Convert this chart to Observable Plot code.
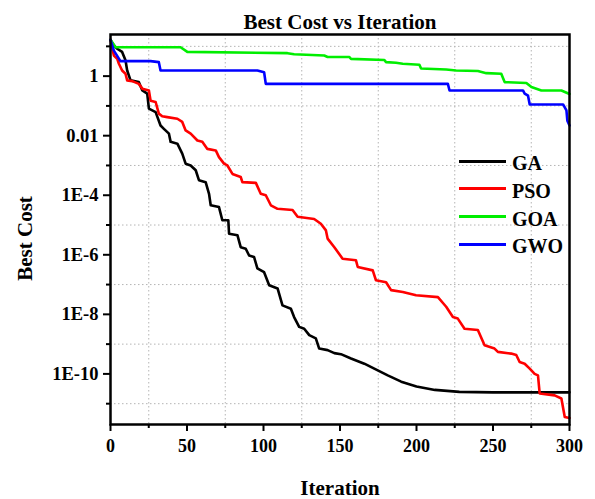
<!DOCTYPE html>
<html><head><meta charset="utf-8">
<script src="https://cdn.jsdelivr.net/npm/d3@7"></script>
<script src="https://cdn.jsdelivr.net/npm/@observablehq/plot@0.6"></script>
<style>
body{margin:0;background:#fff;}
#chart{position:relative;width:595px;height:499px;font-family:"Liberation Serif","Times New Roman",serif;font-weight:bold;}
#legend{position:absolute;left:459px;top:0;}
.row{position:absolute;left:0;height:28px;display:flex;align-items:center;white-space:nowrap;font-size:20px;color:#000;}
.sw{width:47px;height:3px;margin-right:6px;}
.lt{padding-top:5px;}
</style></head><body><div id="chart"><div id="legend"></div></div>
<script>
const names = ["GA", "PSO", "GOA", "GWO"];
const colors = ["#000000", "#ff0000", "#00ee00", "#0000ff"];

const iterGA = [0,2.2,4.4,7.6,9.8,10.9,13.1,18.5,20.8,24,25.1,29.5,32.7,34.9,38.2,39.3,43.7,46.9,49.1,52.4,55.7,57.8,62.2,64.4,65.5,70.9,73.1,77,77.5,83,85.1,88.4,90.6,93.8,96,100.4,103.7,109.2,112.4,117.9,120,123.3,126.6,129.9,134.2,136.4,141.9,146.3,150.6,157.2,165.9,172.4,181.2,190,200,212,228,250,300];
const costGA = [16.6,10.7,8.3,6.5,3.4,1.55,0.72,0.63,0.33,0.26,0.081,0.062,0.022,0.017,0.0117,0.0062,0.0054,0.0025,0.00115,0.001,6.9e-4,3.2e-4,2.75e-4,1.12e-4,4.6e-5,4.0e-5,1.45e-5,1.45e-5,5.1e-6,4.5e-6,1.8e-6,1.6e-6,9.5e-7,8.5e-7,3.5e-7,2.6e-7,9.5e-8,7.4e-8,2.0e-8,1.55e-8,8.1e-9,3.8e-9,3.3e-9,2.0e-9,1.55e-9,7.1e-10,6.3e-10,5.0e-10,4.6e-10,3.3e-10,2.2e-10,1.5e-10,8.9e-11,5.5e-11,3.8e-11,2.9e-11,2.5e-11,2.4e-11,2.4e-11];

const iterPSO = [0,2.2,4.4,5.5,7.6,9.8,10.9,14.2,18.5,20.8,25.1,26.2,29.5,31.6,33.8,37.1,43.7,46.9,49.1,52.4,56.8,60,63.3,68.8,70.9,74.2,76.4,79.7,85.1,86.2,95,98.2,101.5,104.8,109.2,119,122.3,133.1,137.5,140.8,141.9,146.3,151.7,160.4,161.6,171.4,173.5,180.1,183.4,191,199.7,214,219.4,223.8,227,231.4,240.1,244.5,251,253.2,261.9,265.2,267.4,270.7,274,277.2,279.4,280.5,290.3,294.7,296.9,300];
const costPSO = [16.6,4.9,3.8,2.6,1.55,1.2,0.72,0.68,0.55,0.38,0.33,0.15,0.135,0.055,0.045,0.042,0.037,0.029,0.015,0.0117,0.0069,0.0062,0.0036,0.0032,0.0019,0.00115,0.001,5.2e-4,4.1e-4,2.75e-4,2.6e-4,1.12e-4,1.0e-4,4.6e-5,3.5e-5,3.2e-5,1.9e-5,1.6e-5,1.1e-5,6.6e-6,3.5e-6,1.8e-6,7.4e-7,6.6e-7,3.9e-7,3.0e-7,1.4e-7,1.2e-7,6.5e-8,5.6e-8,4.4e-8,3.8e-8,1.8e-8,8.1e-9,7.2e-9,3.3e-9,3.0e-9,9.1e-10,7.1e-10,5.5e-10,4.8e-10,4.3e-10,2.5e-10,2.2e-10,1.5e-10,1.0e-10,8.9e-11,2.2e-11,1.9e-11,1.5e-11,3.6e-12,3.3e-12];

const iterGOA = [0,3.3,45.8,50.2,115.7,120,139.7,141.9,156,157.2,179,180.1,186.6,191,201.9,203,219.4,225.9,240.1,245.6,255.4,257.6,271.8,275.1,281.6,294.7,300];
const costGOA = [16.6,9.3,9.3,6.5,5.9,5.4,4.9,4.4,4.4,3.8,3.5,2.95,2.8,2.6,2.4,1.8,1.66,1.55,1.48,1.26,1.2,0.63,0.59,0.43,0.33,0.33,0.25];

const iterGWO = [0,2.2,6.5,26.2,31.6,32.7,96,100.4,101.5,220.5,221.6,269.6,270.7,272.9,274,295.8,298,298.6,300];
const costGWO = [16.6,7.2,3.2,3.2,2.95,1.55,1.55,1.35,0.55,0.55,0.33,0.33,0.26,0.22,0.112,0.112,0.071,0.032,0.022];

const xMajor = [0, 50, 100, 150, 200, 250, 300];
const xMinor = [25, 75, 125, 175, 225, 275];
const yMajor = [1, 1e-2, 1e-4, 1e-6, 1e-8, 1e-10];
const yTickLabels = ["1", "0.01", "1E-4", "1E-6", "1E-8", "1E-10"];
const yMinor = [10, 1e-1, 1e-3, 1e-5, 1e-7, 1e-9, 1e-11];

const title = "Best Cost vs Iteration";
const xLabel = "Iteration";
const yLabel = "Best Cost";

const series = [[iterGA, costGA], [iterPSO, costPSO], [iterGOA, costGOA], [iterGWO, costGWO]];
const rows = series.flatMap(([it, c], k) => it.map((v, i) => ({iter: v, cost: c[i], algo: names[k]})));
const labelOf = new Map(yMajor.map((v, i) => [v, yTickLabels[i]]));

const grid = {stroke: "#b4b4b4", strokeOpacity: 1, strokeWidth: 1, strokeDasharray: "1.5,2.5"};
const font = "'Liberation Serif','Times New Roman',serif";

const chart = Plot.plot({
  width: 595, height: 499,
  marginLeft: 110, marginRight: 26, marginTop: 34, marginBottom: 75,
  style: {fontFamily: font, fontWeight: "bold", fontSize: "18px", background: "#fff", color: "#000"},
  x: {domain: [0, 300]},
  y: {type: "log", domain: [2e-12, 25]},
  color: {domain: names, range: colors},
  marks: [
    Plot.gridX(xMinor, grid),
    Plot.gridY(yMinor, grid),
    Plot.line(rows, {x: "iter", y: "cost", z: "algo", stroke: "algo", strokeWidth: 2.6}),
    Plot.frame({stroke: "#000", strokeWidth: 2.5}),
    Plot.axisX(xMajor, {tickSize: 7, tickPadding: 8, strokeWidth: 2, fontSize: 18, label: null}),
    Plot.axisX(xMinor, {tickSize: 4, tickFormat: () => "", strokeWidth: 2, label: null}),
    Plot.axisY(yMajor, {tickSize: 7, tickPadding: 5, strokeWidth: 2, fontSize: 18.5, tickFormat: d => labelOf.get(d), label: null}),
    Plot.axisY(yMinor, {tickSize: 4, tickFormat: () => "", strokeWidth: 2, label: null}),
    Plot.text([title], {text: d => d, frameAnchor: "top", lineAnchor: "bottom", dy: -6, fontSize: 21}),
    Plot.text([xLabel], {text: d => d, frameAnchor: "bottom", lineAnchor: "bottom", dy: 70, fontSize: 21}),
    Plot.text([yLabel], {text: d => d, frameAnchor: "left", textAnchor: "middle", rotate: -90, dx: -85, dy: 9, fontSize: 21})
  ]
});
const root = document.getElementById("chart");
root.insertBefore(chart, root.firstChild);

const legend = document.getElementById("legend");
names.forEach((n, i) => {
  const r = document.createElement("div");
  r.className = "row";
  r.style.top = (147 + i * 27.8) + "px";
  r.innerHTML = `<div class="sw" style="background:${colors[i]}"></div><span class="lt">${n}</span>`;
  legend.appendChild(r);
});
</script></body></html>
